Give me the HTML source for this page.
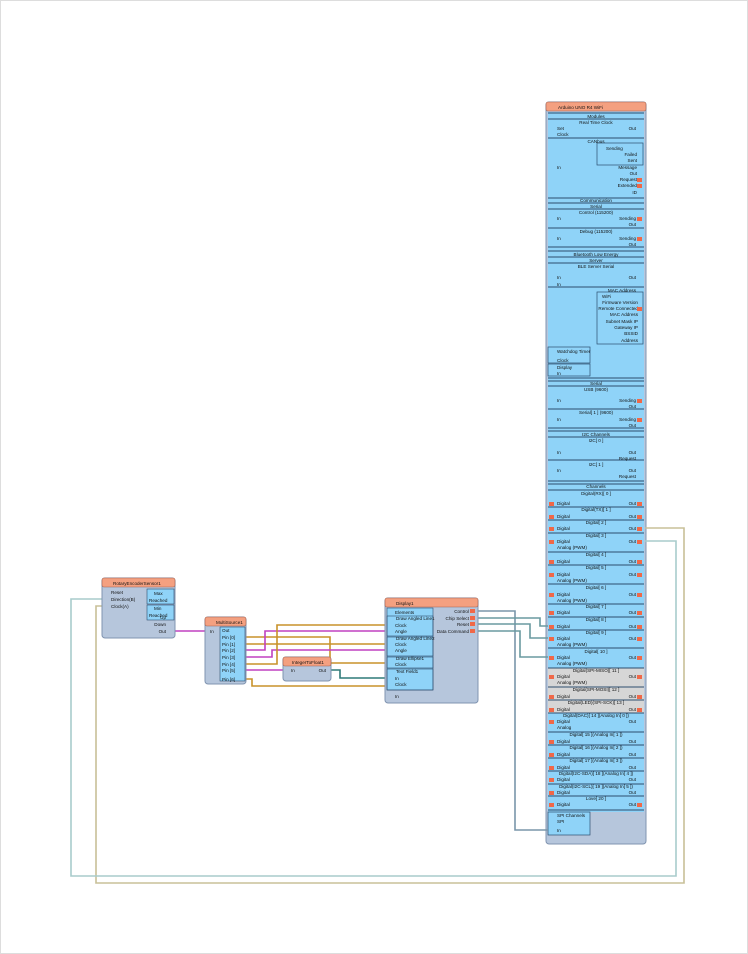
<!DOCTYPE html>
<html><head><meta charset="utf-8"><style>
html,body{margin:0;padding:0;background:#fff}
svg{display:block}
text{font-family:"Liberation Sans",sans-serif;font-size:4.6px;fill:#111}
.c{text-anchor:middle}.r{text-anchor:end}
.sep{stroke:#2d4e6e;stroke-width:1}
.hd{fill:#f4a080;stroke:#a06050;stroke-width:.6}
.w{fill:none;stroke-width:1.6}
</style></head><body>
<svg width="748" height="954" viewBox="0 0 748 954" xmlns="http://www.w3.org/2000/svg">
<rect x="0.5" y="0.5" width="747" height="953" fill="#fff" stroke="#ddd"/>

<!-- Big Arduino block -->
<rect x="546" y="102" width="100" height="742" rx="3" fill="#b6c6dc" stroke="#8094b0"/>
<rect x="548" y="112" width="96" height="700" fill="#8fd3f8"/>
<rect x="548" y="668" width="96" height="45" fill="#d6d6d6"/>
<rect x="546" y="102" width="100" height="9" rx="2" class="hd"/>
<text x="558" y="109">Arduino UNO R4 WiFi</text>
<g class="sep">
<line x1="548" y1="113" x2="644" y2="113"/><line x1="548" y1="119" x2="644" y2="119"/>
<line x1="548" y1="138" x2="644" y2="138"/><line x1="548" y1="198" x2="644" y2="198"/>
<line x1="548" y1="203" x2="644" y2="203"/><line x1="548" y1="209" x2="644" y2="209"/>
<line x1="548" y1="228" x2="644" y2="228"/><line x1="548" y1="247" x2="644" y2="247"/>
<line x1="548" y1="251" x2="644" y2="251"/><line x1="548" y1="257" x2="644" y2="257"/>
<line x1="548" y1="263" x2="644" y2="263"/><line x1="548" y1="287" x2="644" y2="287"/>
<line x1="548" y1="378" x2="644" y2="378"/><line x1="548" y1="381" x2="644" y2="381"/>
<line x1="548" y1="386" x2="644" y2="386"/><line x1="548" y1="409" x2="644" y2="409"/>
<line x1="548" y1="428" x2="644" y2="428"/><line x1="548" y1="431" x2="644" y2="431"/>
<line x1="548" y1="437" x2="644" y2="437"/><line x1="548" y1="460" x2="644" y2="460"/>
<line x1="548" y1="481" x2="644" y2="481"/><line x1="548" y1="484" x2="644" y2="484"/>
<line x1="548" y1="490" x2="644" y2="490"/><line x1="548" y1="507" x2="644" y2="507"/>
<line x1="548" y1="520" x2="644" y2="520"/><line x1="548" y1="533" x2="644" y2="533"/>
<line x1="548" y1="552" x2="644" y2="552"/><line x1="548" y1="565" x2="644" y2="565"/>
<line x1="548" y1="584" x2="644" y2="584"/><line x1="548" y1="604" x2="644" y2="604"/>
<line x1="548" y1="617" x2="644" y2="617"/><line x1="548" y1="630" x2="644" y2="630"/>
<line x1="548" y1="648" x2="644" y2="648"/><line x1="548" y1="668" x2="644" y2="668"/>
<line x1="548" y1="687" x2="644" y2="687"/><line x1="548" y1="700" x2="644" y2="700"/>
<line x1="548" y1="713" x2="644" y2="713"/><line x1="548" y1="732" x2="644" y2="732"/>
<line x1="548" y1="745" x2="644" y2="745"/><line x1="548" y1="758" x2="644" y2="758"/>
<line x1="548" y1="771" x2="644" y2="771"/><line x1="548" y1="784" x2="644" y2="784"/>
<line x1="548" y1="796" x2="644" y2="796"/><line x1="548" y1="810" x2="644" y2="810"/>
</g>
<rect x="597" y="143" width="46" height="22" fill="none" stroke="#2d4e6e" stroke-width=".7"/>
<rect x="597" y="292" width="46" height="52" fill="none" stroke="#2d4e6e" stroke-width=".7"/>
<rect x="548" y="347" width="42" height="16" fill="none" stroke="#2d4e6e" stroke-width=".7"/>
<rect x="548" y="364" width="42" height="12" fill="none" stroke="#2d4e6e" stroke-width=".7"/>
<rect x="548" y="812" width="42" height="23" fill="#8fd3f8" stroke="#2d4e6e" stroke-width=".7"/>
<g>
<text x="596" y="118" class="c">Modules</text>
<text x="596" y="124" class="c">Real Time Clock</text>
<text x="557" y="130">Set</text><text x="636" y="130" class="r">Out</text>
<text x="557" y="136">Clock</text>
<text x="596" y="143" class="c">CANbus</text>
<text x="606" y="150">Sending</text>
<text x="637" y="156" class="r">Failed</text><text x="637" y="162" class="r">Sent</text>
<text x="557" y="169">In</text>
<text x="637" y="169" class="r">Message</text><text x="637" y="175" class="r">Out</text>
<text x="637" y="181" class="r">Request</text><text x="637" y="187" class="r">Extended</text>
<text x="637" y="194" class="r">ID</text>
<text x="596" y="202" class="c">Communication</text>
<text x="596" y="208" class="c">Serial</text>
<text x="596" y="214" class="c">Control (115200)</text>
<text x="557" y="220">In</text><text x="636" y="220" class="r">Sending</text>
<text x="636" y="226" class="r">Out</text>
<text x="596" y="233" class="c">Debug (115200)</text>
<text x="557" y="240">In</text><text x="636" y="240" class="r">Sending</text>
<text x="636" y="246" class="r">Out</text>
<text x="596" y="256" class="c">Bluetooth Low Energy</text>
<text x="596" y="262" class="c">Server</text>
<text x="596" y="268" class="c">BLE Server Serial</text>
<text x="557" y="279">In</text><text x="636" y="279" class="r">Out</text>
<text x="557" y="286">In</text>
<text x="636" y="292" class="r">MAC Address</text>
<text x="602" y="298">WiFi</text>
<text x="638" y="304" class="r">Firmware Version</text>
<text x="638" y="310" class="r">Remote Connected</text>
<text x="638" y="316" class="r">MAC Address</text>
<text x="638" y="323" class="r">Subnet Mask IP</text>
<text x="638" y="329" class="r">Gateway IP</text>
<text x="638" y="335" class="r">BSSID</text>
<text x="638" y="342" class="r">Address</text>
<text x="557" y="353">Watchdog Timer</text>
<text x="557" y="362">Clock</text>
<text x="557" y="369">Display</text>
<text x="557" y="375">In</text>
<text x="596" y="385" class="c">Serial</text>
<text x="596" y="391" class="c">USB (9600)</text>
<text x="557" y="402">In</text><text x="636" y="402" class="r">Sending</text>
<text x="636" y="408" class="r">Out</text>
<text x="596" y="414" class="c">Serial[ 1 ] (9600)</text>
<text x="557" y="421">In</text><text x="636" y="421" class="r">Sending</text>
<text x="636" y="427" class="r">Out</text>
<text x="596" y="436" class="c">I2C Channels</text>
<text x="596" y="442" class="c">I2C[ 0 ]</text>
<text x="557" y="454">In</text><text x="636" y="454" class="r">Out</text>
<text x="636" y="460" class="r">Request</text>
<text x="596" y="466" class="c">I2C[ 1 ]</text>
<text x="557" y="472">In</text><text x="636" y="472" class="r">Out</text>
<text x="636" y="478" class="r">Request</text>
<text x="596" y="488" class="c">Channels</text>
<text x="596" y="495" class="c">Digital(RX)[ 0 ]</text>
<text x="557" y="505">Digital</text><text x="636" y="505" class="r">Out</text>
<text x="596" y="511" class="c">Digital(TX)[ 1 ]</text>
<text x="557" y="518">Digital</text><text x="636" y="518" class="r">Out</text>
<text x="596" y="524" class="c">Digital[ 2 ]</text>
<text x="557" y="530">Digital</text><text x="636" y="530" class="r">Out</text>
<text x="596" y="537" class="c">Digital[ 3 ]</text>
<text x="557" y="543">Digital</text><text x="636" y="543" class="r">Out</text>
<text x="557" y="549">Analog (PWM)</text>
<text x="596" y="556" class="c">Digital[ 4 ]</text>
<text x="557" y="563">Digital</text><text x="636" y="563" class="r">Out</text>
<text x="596" y="569" class="c">Digital[ 5 ]</text>
<text x="557" y="576">Digital</text><text x="636" y="576" class="r">Out</text>
<text x="557" y="582">Analog (PWM)</text>
<text x="596" y="589" class="c">Digital[ 6 ]</text>
<text x="557" y="596">Digital</text><text x="636" y="596" class="r">Out</text>
<text x="557" y="602">Analog (PWM)</text>
<text x="596" y="608" class="c">Digital[ 7 ]</text>
<text x="557" y="614">Digital</text><text x="636" y="614" class="r">Out</text>
<text x="596" y="621" class="c">Digital[ 8 ]</text>
<text x="557" y="628">Digital</text><text x="636" y="628" class="r">Out</text>
<text x="596" y="634" class="c">Digital[ 9 ]</text>
<text x="557" y="640">Digital</text><text x="636" y="640" class="r">Out</text>
<text x="557" y="646">Analog (PWM)</text>
<text x="596" y="653" class="c">Digital[ 10 ]</text>
<text x="557" y="659">Digital</text><text x="636" y="659" class="r">Out</text>
<text x="557" y="665">Analog (PWM)</text>
<text x="596" y="672" class="c">Digital(SPI-MISO)[ 11 ]</text>
<text x="557" y="678">Digital</text><text x="636" y="678" class="r">Out</text>
<text x="557" y="684">Analog (PWM)</text>
<text x="596" y="691" class="c">Digital(SPI-MOSI)[ 12 ]</text>
<text x="557" y="698">Digital</text><text x="636" y="698" class="r">Out</text>
<text x="596" y="704" class="c">Digital(LED)(SPI-SCK)[ 13 ]</text>
<text x="557" y="711">Digital</text><text x="636" y="711" class="r">Out</text>
<text x="596" y="717" class="c">Digital(DAC)[ 14 ](Analog In[ 0 ])</text>
<text x="557" y="723">Digital</text><text x="636" y="723" class="r">Out</text>
<text x="557" y="729">Analog</text>
<text x="596" y="736" class="c">Digital[ 15 ](Analog In[ 1 ])</text>
<text x="557" y="743">Digital</text><text x="636" y="743" class="r">Out</text>
<text x="596" y="749" class="c">Digital[ 16 ](Analog In[ 2 ])</text>
<text x="557" y="756">Digital</text><text x="636" y="756" class="r">Out</text>
<text x="596" y="762" class="c">Digital[ 17 ](Analog In[ 3 ])</text>
<text x="557" y="769">Digital</text><text x="636" y="769" class="r">Out</text>
<text x="596" y="775" class="c">Digital(I2C-SDA)[ 18 ](Analog In[ 4 ])</text>
<text x="557" y="781">Digital</text><text x="636" y="781" class="r">Out</text>
<text x="596" y="788" class="c">Digital(I2C-SCL)[ 19 ](Analog In[ 5 ])</text>
<text x="557" y="794">Digital</text><text x="636" y="794" class="r">Out</text>
<text x="596" y="800" class="c">Love[ 20 ]</text>
<text x="557" y="806">Digital</text><text x="636" y="806" class="r">Out</text>
<text x="557" y="817">SPI Channels</text>
<text x="557" y="823">SPI</text>
<text x="557" y="832">In</text>
</g>
<!-- pin icons on big block -->
<g fill="#f06848">
<rect x="549" y="502" width="5" height="4"/><rect x="549" y="515" width="5" height="4"/><rect x="549" y="527" width="5" height="4"/>
<rect x="549" y="540" width="5" height="4"/><rect x="549" y="560" width="5" height="4"/><rect x="549" y="573" width="5" height="4"/>
<rect x="549" y="593" width="5" height="4"/><rect x="549" y="611" width="5" height="4"/><rect x="549" y="625" width="5" height="4"/>
<rect x="549" y="637" width="5" height="4"/><rect x="549" y="656" width="5" height="4"/><rect x="549" y="675" width="5" height="4"/>
<rect x="549" y="695" width="5" height="4"/><rect x="549" y="708" width="5" height="4"/><rect x="549" y="720" width="5" height="4"/>
<rect x="549" y="740" width="5" height="4"/><rect x="549" y="753" width="5" height="4"/><rect x="549" y="766" width="5" height="4"/>
<rect x="549" y="778" width="5" height="4"/><rect x="549" y="791" width="5" height="4"/><rect x="549" y="803" width="5" height="4"/>
<rect x="637" y="502" width="5" height="4"/><rect x="637" y="515" width="5" height="4"/><rect x="637" y="527" width="5" height="4"/>
<rect x="637" y="540" width="5" height="4"/><rect x="637" y="560" width="5" height="4"/><rect x="637" y="573" width="5" height="4"/>
<rect x="637" y="593" width="5" height="4"/><rect x="637" y="611" width="5" height="4"/><rect x="637" y="625" width="5" height="4"/>
<rect x="637" y="637" width="5" height="4"/><rect x="637" y="656" width="5" height="4"/><rect x="637" y="675" width="5" height="4"/>
<rect x="637" y="695" width="5" height="4"/><rect x="637" y="708" width="5" height="4"/><rect x="637" y="803" width="5" height="4"/>
<rect x="637" y="217" width="5" height="4"/><rect x="637" y="237" width="5" height="4"/><rect x="637" y="399" width="5" height="4"/>
<rect x="637" y="418" width="5" height="4"/><rect x="637" y="178" width="5" height="4"/><rect x="637" y="184" width="5" height="4"/>
<rect x="637" y="307" width="5" height="4"/>
</g>

<!-- Wires -->
<g class="w">
<path d="M645 528 H684 V883 H96 V606 H104" stroke="#c8c098"/>
<path d="M645 541 H676 V876 H71 V599 H104" stroke="#a8cccc"/>
<path d="M477 611 H515 V830 H548" stroke="#7a96aa"/>
<path d="M477 618 H540 V626 H548" stroke="#6a9aa0"/>
<path d="M477 624 H530 V638 H548" stroke="#6a9aa0"/>
<path d="M477 631 H520 V657 H548" stroke="#6a9aa0"/>
<path d="M174 631 H207" stroke="#c040c0"/>
<path d="M245 637 H330 V663 H387" stroke="#c8922a"/>
<path d="M245 644 H387" stroke="#c8922a"/>
<path d="M245 650 H265 V631 H387" stroke="#c040c0"/>
<path d="M245 657 H272 V650 H387" stroke="#c040c0"/>
<path d="M245 664 H277 V625 H387" stroke="#c8922a"/>
<path d="M245 670 H284" stroke="#c040c0"/>
<path d="M245 679 H252 V686 H387" stroke="#c8922a"/>
<path d="M330 670 H340 V678 H387" stroke="#2f7a78"/>
</g>

<!-- Rotary encoder -->
<rect x="102" y="578" width="73" height="60" rx="3" fill="#b6c6dc" stroke="#8094b0"/>
<rect x="102" y="578" width="73" height="9" rx="2" class="hd"/>
<text x="113" y="585">RotaryEncoderSensor1</text>
<rect x="147" y="589" width="27" height="15" fill="#8fd3f8" stroke="#2d4e6e" stroke-width=".6"/>
<rect x="147" y="605" width="27" height="15" fill="#8fd3f8" stroke="#2d4e6e" stroke-width=".6"/>
<text x="154" y="595">Max</text><text x="149" y="602">Reached</text>
<text x="154" y="610">Min</text><text x="149" y="617">Reached</text>
<text x="111" y="594">Reset</text><text x="111" y="601">Direction(B)</text><text x="111" y="608">Clock(A)</text>
<text x="166" y="619" class="r">Up</text><text x="166" y="626" class="r">Down</text><text x="166" y="633" class="r">Out</text>

<!-- MultiSource -->
<rect x="205" y="617" width="41" height="67" rx="3" fill="#b6c6dc" stroke="#8094b0"/>
<rect x="205" y="617" width="41" height="9" rx="2" class="hd"/>
<text x="216" y="624">MultiSource1</text>
<rect x="220" y="627" width="25" height="54" fill="#8fd3f8" stroke="#2d4e6e" stroke-width=".6"/>
<text x="210" y="633">In</text><text x="222" y="632">Out</text>
<text x="222" y="639">Pin [0]</text><text x="222" y="646">Pin [1]</text><text x="222" y="652">Pin [2]</text>
<text x="222" y="659">Pin [3]</text><text x="222" y="666">Pin [4]</text><text x="222" y="672">Pin [5]</text><text x="222" y="681">Pin [6]</text>

<!-- IntegerToFloat -->
<rect x="283" y="657" width="48" height="24" rx="3" fill="#b6c6dc" stroke="#8094b0"/>
<rect x="283" y="657" width="48" height="9" rx="2" class="hd"/>
<text x="292" y="664">IntegerToFloat1</text>
<text x="291" y="672">In</text><text x="326" y="672" class="r">Out</text>

<!-- Display -->
<rect x="385" y="598" width="93" height="105" rx="3" fill="#b6c6dc" stroke="#8094b0"/>
<rect x="385" y="598" width="93" height="9" rx="2" class="hd"/>
<text x="396" y="605">Display1</text>
<rect x="387" y="608" width="46" height="82" fill="#8fd3f8" stroke="#2d4e6e" stroke-width=".6"/>
<rect x="387" y="616" width="46" height="20" fill="none" stroke="#2d4e6e" stroke-width=".6"/>
<rect x="387" y="637" width="46" height="19" fill="none" stroke="#2d4e6e" stroke-width=".6"/>
<rect x="387" y="657" width="46" height="11" fill="none" stroke="#2d4e6e" stroke-width=".6"/>
<rect x="387" y="669" width="46" height="21" fill="none" stroke="#2d4e6e" stroke-width=".6"/>
<text x="395" y="614">Elements</text>
<text x="396" y="620">Draw Angled Line1</text><text x="395" y="627">Clock</text><text x="395" y="633">Angle</text>
<text x="396" y="640">Draw Angled Line2</text><text x="395" y="646">Clock</text><text x="395" y="652">Angle</text>
<text x="396" y="660">Draw Ellipse1</text><text x="395" y="666">Clock</text>
<text x="396" y="673">Text Field1</text><text x="395" y="680">In</text><text x="395" y="686">Clock</text>
<text x="395" y="698">In</text>
<text x="469" y="613" class="r">Control</text><text x="469" y="620" class="r">Chip Select</text>
<text x="469" y="626" class="r">Reset</text><text x="469" y="633" class="r">Data Command</text>
<g fill="#f06848"><rect x="470" y="609" width="5" height="4"/><rect x="470" y="616" width="5" height="4"/><rect x="470" y="622" width="5" height="4"/><rect x="470" y="629" width="5" height="4"/></g>
</svg>
</body></html>
